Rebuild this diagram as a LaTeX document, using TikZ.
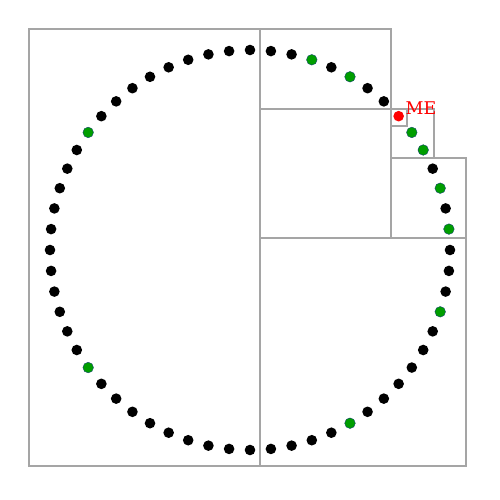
\documentclass[tikz,border=0pt]{standalone}
\usepackage{fontspec}
\newfontfamily\mefont{DejaVu Serif}
\definecolor{dotgreen}{RGB}{0,158,0}
\definecolor{dotedge}{RGB}{20,70,110}
\definecolor{boxgray}{RGB}{165,165,165}
\begin{document}
\begin{tikzpicture}[x=1pt,y=-1pt,
  dotb/.style={circle,fill=black,inner sep=0pt,minimum size=10.6pt},
  dotg/.style={circle,fill=dotgreen,draw=dotedge,line width=0.4pt,inner sep=0pt,minimum size=10.6pt},
  dotr/.style={circle,fill=red,inner sep=0pt,minimum size=10.6pt},
  bucket/.style={draw=boxgray,line width=1.2pt}]
\useasboundingbox (0,0) rectangle (500,500);
% buckets
\draw[bucket] (29,29) rectangle (260,466);
\draw[bucket] (260,238) rectangle (466,466);
\draw[bucket] (260,29) rectangle (391,109);
\draw[bucket] (391,158) rectangle (466,238);
\draw[bucket] (391,109) rectangle (434,158);
\draw[bucket] (391,109) rectangle (407,126);
% nodes on the ring
\foreach \a in {0,12,24,48,54,66,78,84,90,96,102,108,114,120,126,132,138,150,156,162,168,174,180,186,192,198,204,210,222,228,234,240,246,252,258,264,270,276,282,288,294,306,312,318,324,330,336,348,354}
  \node[dotb] (d\a) at ({250+200*cos(\a)},{250-200*sin(\a)}) {};
\foreach \a in {6,18,30,36,60,72,144,216,300,342}
  \node[dotg] (d\a) at ({250+200*cos(\a)},{250-200*sin(\a)}) {};
\node[dotr] (me) at ({250+200*cos(42)},{250-200*sin(42)}) {};
\node[anchor=base west,text=red,inner sep=0pt,font=\mefont\fontsize{17.5}{19}\selectfont] (melabel) at (405.5,114.5) {ME};
\end{tikzpicture}
\end{document}
